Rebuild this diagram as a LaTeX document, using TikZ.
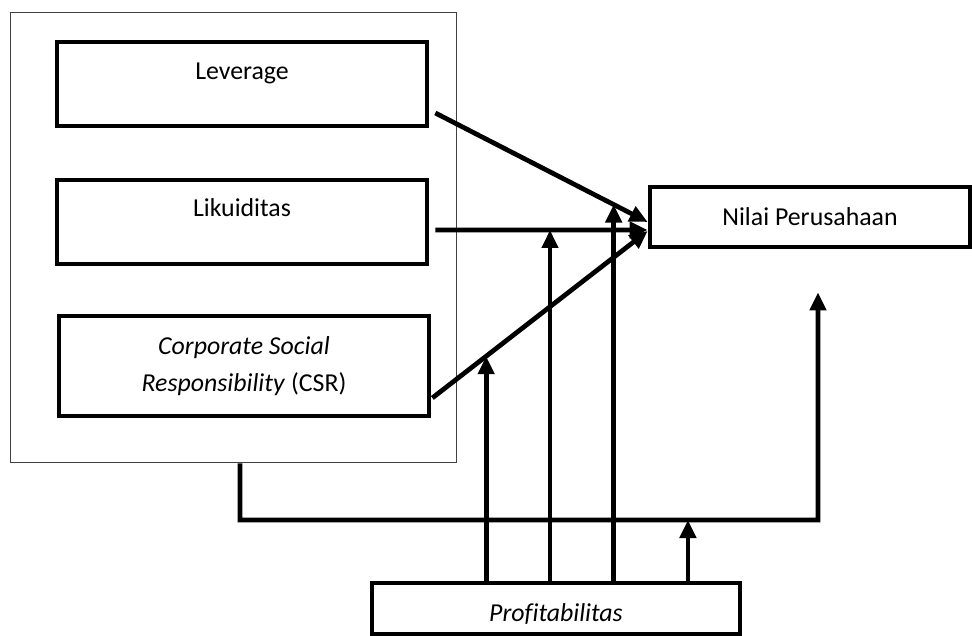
\documentclass[tikz,border=0pt]{standalone}
\usepackage{fontspec}
\setmainfont{Carlito}[Ligatures=CommonOff]
\usetikzlibrary{arrows.meta}
\tikzstyle{frame} = [rectangle, draw=black!75, line width=0.02cm, minimum width=8.94cm, minimum height=9.02cm]
\tikzstyle{varbox} = [rectangle, draw=black, line width=0.095cm, minimum width=7.4cm, align=center, font=\fontsize{14.7pt}{21pt}\selectfont]
\tikzstyle{topbox} = [varbox, inner ysep=0pt, text height=0.74cm, text depth=0.94cm]
\tikzstyle{arrow} = [line width=0.095cm, ->, >={Triangle[length=0.36cm, width=0.32cm]}]
\begin{document}
\begin{tikzpicture}[x=0.02cm, y=-0.02cm, node distance=2.76cm]
    \useasboundingbox (0,0) rectangle (972,635);
    \node [frame]													(group)		at (233.5,237.5) {};
    \node [topbox]													(lev)		at (242,84) {Leverage};
    \node [topbox, below of=lev]									(liku)		{Likuiditas};
    \node [varbox, below of=liku, yshift=-0.12cm, xshift=0.04cm, minimum height=2cm]	(csr)	{\textit{Corporate Social}\\\textit{Responsibility} (CSR)};
    \node [varbox, minimum width=6.4cm, minimum height=1.2cm]		(nilai)		at (810,217) {Nilai Perusahaan};
    \node [varbox, minimum width=7.36cm, inner ysep=0pt, text height=0.76cm, text depth=0.26cm]	(prof)	at (556,608.5) {\textit{Profitabilitas}};
    \coordinate (floor) at (818,520);

    \draw [arrow] ([xshift=0.12cm, yshift=-0.58cm]lev.east) -- coordinate[pos=0.84] (levcut) ([yshift=-0.1cm]nilai.west);
    \draw [arrow] ([xshift=0.12cm, yshift=-0.16cm]liku.east) -- coordinate[pos=0.54] (likucut) ([yshift=-0.26cm]nilai.west);
    \draw [arrow] ([xshift=0.02cm, yshift=-0.64cm]csr.east) -- coordinate[pos=0.25] (csrcut) ([yshift=-0.28cm]nilai.west);
    \draw [arrow] ([xshift=0.13cm]group.south) |- coordinate[pos=0.8875] (floorcut) (floor) -- ([xshift=0.16cm, yshift=-0.86cm]nilai.south);
    \draw [arrow] (prof.north -| csrcut) -- (csrcut);
    \draw [arrow] (prof.north -| likucut) -- (likucut);
    \draw [arrow] (prof.north -| levcut) -- (levcut);
    \draw [arrow] (prof.north -| floorcut) -- (floorcut);
\end{tikzpicture}
\end{document}
